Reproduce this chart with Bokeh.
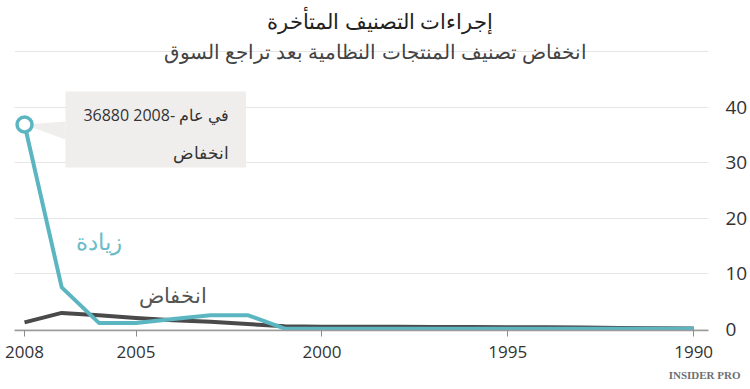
from bokeh.plotting import figure
from bokeh.models import Range1d, FixedTicker, Label, Grid, ColumnDataSource, LinearAxis, Title
from bokeh.embed import file_html
from bokeh.resources import INLINE

# ---- data (thousands of actions) ----
years = [2008, 2007, 2006, 2005, 2004, 2003, 2002, 2001, 2000, 1999,
         1998, 1997, 1996, 1995, 1994, 1993, 1992, 1991, 1990]
increase = [36.88, 7.5, 1.1, 1.1, 1.8, 2.5, 2.5, 0.05, 0.05, 0.05,
            0.05, 0.05, 0.05, 0.05, 0.05, 0.05, 0.05, 0.05, 0.05]
decrease = [1.2, 2.9, 2.5, 2.0, 1.6, 1.3, 0.9, 0.5, 0.4, 0.4,
            0.4, 0.35, 0.35, 0.3, 0.3, 0.25, 0.2, 0.15, 0.1]
x_ticks = [2008, 2005, 2000, 1995, 1990]
y_ticks = [0, 10, 20, 30, 40]
grid_ticks = [10, 20, 30, 40]

title_text = "إجراءات التصنيف المتأخرة"
subtitle_text = "انخفاض تصنيف المنتجات النظامية بعد تراجع السوق"
label_increase = "زيادة"
label_decrease = "انخفاض"
tip_line1 = "36880 2008- في عام"
tip_line2 = "انخفاض"

TEAL = "#5cb6c2"
GREY = "#4a4a4a"
FONT = "Open Sans"

p = figure(width=750, height=389, output_backend="svg", toolbar_location=None,
           x_range=Range1d(2008.27, 1989.60), y_range=Range1d(-0.27, 59.24),
           y_axis_location=None, min_border_left=14, min_border_right=38,
           min_border_top=0, min_border_bottom=59)
p.outline_line_color = None
p.background_fill_color = "white"
p.border_fill_color = "white"

# x axis
ax = p.xaxis[0]
ax.ticker = FixedTicker(ticks=x_ticks)
ax.major_label_overrides = {t: str(t) for t in x_ticks}
ax.axis_line_color = "#9a9a9a"
ax.axis_line_width = 1.5
ax.major_tick_line_color = "#8a8a8a"
ax.major_tick_out = 6
ax.major_tick_in = 0
ax.minor_tick_line_color = None
ax.major_label_standoff = 9
ax.major_label_text_font = FONT
ax.major_label_text_font_size = "17px"
ax.major_label_text_color = "#333333"
p.xgrid.visible = False

# y axis on the right (labels only)
yax = LinearAxis(ticker=FixedTicker(ticks=y_ticks))
yax.axis_line_color = None
yax.major_tick_line_color = None
yax.minor_tick_line_color = None
yax.major_label_standoff = 11
yax.major_label_text_font = FONT
yax.major_label_text_font_size = "19px"
yax.major_label_text_color = "#333333"
p.add_layout(yax, "right")

g = Grid(dimension=1, ticker=FixedTicker(ticks=grid_ticks),
         grid_line_color="#e6e6e6", grid_line_width=1)
p.add_layout(g)

# logo
p.add_layout(Title(text="INSIDER PRO", align="right", text_font="Liberation Serif",
                   text_font_style="bold", text_font_size="11px",
                   text_color="#6f6f6f", standoff=12, offset=-32), "below")

# tooltip box anchored on the 2008 point
hx, hy = years[0], increase[0]
tip = ColumnDataSource(dict(left=[hx - 1.10], right=[hx - 5.96],
                            top=[hy + 5.95], bottom=[hy - 7.75]))
p.quad(left="left", right="right", top="top", bottom="bottom", source=tip,
       fill_color="#efeeec", line_color=None)
p.patch(x=[hx, hx - 1.10, hx - 1.10], y=[hy, hy + 0.55, hy - 2.7],
        fill_color="#efeeec", line_color=None)

# series
p.line(years, decrease, line_color=GREY, line_width=4, line_join="round")
p.line(years, increase, line_color=TEAL, line_width=4, line_join="round")
p.scatter([hx], [hy], size=15, marker="circle", fill_color="white",
          line_color=TEAL, line_width=3.5)

p.add_layout(Label(x=hx - 5.51, y=hy + 1.8, text=tip_line1, text_align="right",
                   text_baseline="alphabetic", text_font=FONT,
                   text_font_size="16px", text_color="#333333"))
p.add_layout(Label(x=hx - 5.51, y=hy - 5.1, text=tip_line2, text_align="right",
                   text_baseline="alphabetic", text_font=FONT,
                   text_font_size="17px", text_color="#333333"))

# inline series labels
p.add_layout(Label(x=2005.99, y=15.96, text=label_increase, text_align="center",
                   text_baseline="middle", text_font=FONT, text_font_size="23px",
                   text_color="#6cbcc7"))
p.add_layout(Label(x=2004.01, y=6.22, text=label_decrease, text_align="center",
                   text_baseline="middle", text_font=FONT, text_font_size="21px",
                   text_color="#555555"))

# titles
p.add_layout(Label(x=1998.43, y=55.63, text=title_text,
                   text_align="center", text_baseline="middle", text_font=FONT,
                   text_font_size="21px", text_color="#222222"))
p.add_layout(Label(x=1998.56, y=50.0, text=subtitle_text,
                   text_align="center", text_baseline="middle", text_font=FONT,
                   text_font_size="19.5px", text_color="#444444"))

open("out.html", "w").write(file_html(p, INLINE))
